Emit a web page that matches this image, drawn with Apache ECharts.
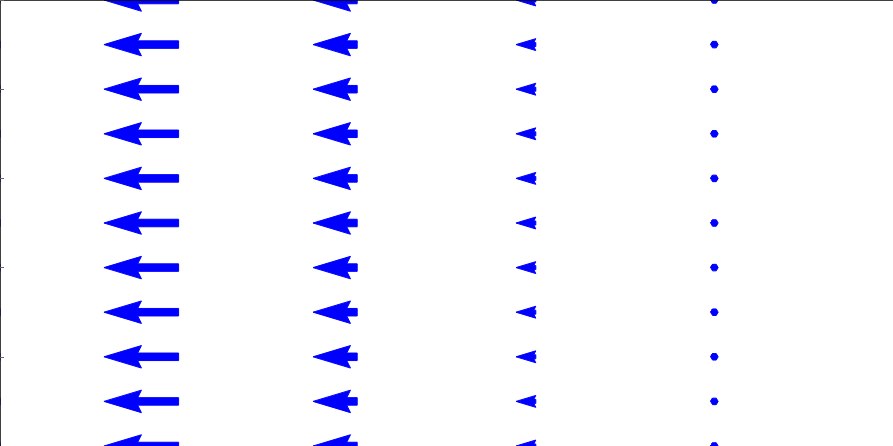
<!DOCTYPE html>
<html>
<head>
<meta charset="utf-8">
<script src="https://cdn.jsdelivr.net/npm/echarts@6/dist/echarts.min.js"></script>
<style>
html,body{margin:0;padding:0;background:#fff;}
#chart{width:893px;height:446px;}
</style>
</head>
<body>
<div id="chart"></div>
<script>
// Grid positions of the vectors (columns / rows)
const xPositions = [0, 1, 2, 3, 4];
const yPositions = [0, 1, 2, 3, 4, 5, 6, 7, 8, 9, 10];
// Vector components per column (same in every row), data units
const uByColumn = [-0.55, -0.418, -0.2475, -0.111, -0.01];
const vByColumn = [0, 0, 0, 0, 0];
// Axis ranges / ticks
const xRange = [0, 5];
const yRange = [0, 10];
const yTickInterval = 2;

const data = [];
for (let j = 0; j < yPositions.length; j++) {
  for (let i = 0; i < xPositions.length; i++) {
    data.push([xPositions[i], yPositions[j], uByColumn[i], vByColumn[i]]);
  }
}

const SHAFT_W = 7.5;      // px
const HEAD_W = 3, HEAD_L = 5, HEAD_AX = 4.5, MIN_SHAFT = 1, MIN_LEN = 1;

function arrowPoints(L) {
  if (L < MIN_LEN) {
    const pts = [];
    for (let k = 0; k < 8; k++) {
      const th = k * Math.PI / 3;
      pts.push([Math.cos(th) * MIN_LEN * 0.5, Math.sin(th) * MIN_LEN * 0.5]);
    }
    return pts;
  }
  const minsh = MIN_SHAFT * HEAD_L;
  let X, Y;
  if (L < minsh) {
    const s = L / minsh;
    const x0 = [0, minsh - HEAD_AX, minsh - HEAD_L, minsh];
    X = [x0[0], x0[1], x0[2], x0[3], x0[2], x0[1], x0[0], x0[0]].map(v => v * s);
    Y = [0.5, 0.5, HEAD_W / 2, 0, -HEAD_W / 2, -0.5, -0.5, 0.5].map(v => v * s);
  } else {
    const x = [0, L - HEAD_AX, L - HEAD_L, L];
    X = [x[0], x[1], x[2], x[3], x[2], x[1], x[0], x[0]];
    Y = [0.5, 0.5, HEAD_W / 2, 0, -HEAD_W / 2, -0.5, -0.5, 0.5];
  }
  return X.map((v, k) => [v, Y[k]]);
}

const chart = echarts.init(document.getElementById('chart'), null, {renderer: 'canvas'});
chart.setOption({
  animation: false,
  backgroundColor: '#ffffff',
  grid: {left: 0, right: 0, top: 0, bottom: 0, containLabel: false},
  xAxis: [{
    type: 'value', min: xRange[0], max: xRange[1], position: 'top', z: 5,
    axisLine: {show: true, onZero: false, lineStyle: {color: '#000', width: 1.5}},
    axisTick: {show: false}, axisLabel: {show: false}, splitLine: {show: false}
  }],
  yAxis: [{
    type: 'value', min: yRange[0], max: yRange[1], interval: yTickInterval, position: 'left', z: 5,
    axisLine: {show: true, onZero: false, lineStyle: {color: '#000', width: 1.5}},
    axisTick: {show: true, inside: true, length: 4, lineStyle: {color: '#666', width: 1}},
    axisLabel: {show: false}, splitLine: {show: false}
  }, {
    type: 'value', min: yRange[0], max: yRange[1], interval: yTickInterval, position: 'right', z: 5,
    axisLine: {show: false},
    axisTick: {show: true, inside: true, length: 4, lineStyle: {color: '#666', width: 1}},
    axisLabel: {show: false}, splitLine: {show: false}
  }],
  series: [{
    type: 'custom',
    z: 1,
    clip: true,
    data: data,
    renderItem: function (params, api) {
      const x = api.value(0), y = api.value(1), u = api.value(2), v = api.value(3);
      const p0 = api.coord([x, y]);
      const p1 = api.coord([x + u, y + v]);
      const dx = p1[0] - p0[0], dy = p1[1] - p0[1];
      const Lpx = Math.sqrt(dx * dx + dy * dy);
      const ang = Math.atan2(dy, dx);
      const c = Math.cos(ang), s = Math.sin(ang);
      const local = arrowPoints(Lpx / SHAFT_W);
      const pts = local.map(p => {
        const lx = p[0] * SHAFT_W, ly = p[1] * SHAFT_W;
        return [p0[0] + lx * c - ly * s, p0[1] + lx * s + ly * c];
      });
      return {
        type: 'polygon',
        shape: {points: pts},
        style: {fill: '#0000ff', stroke: '#0000ff', lineWidth: 1, lineJoin: 'round'}
      };
    }
  }]
});
</script>
</body>
</html>
